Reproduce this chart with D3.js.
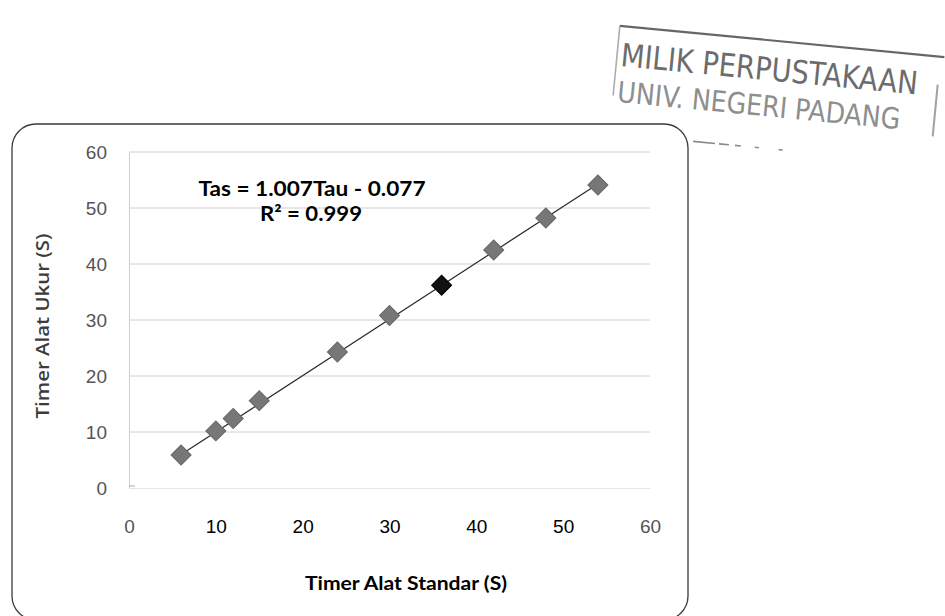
<!DOCTYPE html>
<html>
<head>
<meta charset="utf-8">
<script src="https://cdn.jsdelivr.net/npm/d3@7"></script>
<style>
  html, body { margin: 0; padding: 0; background: #fff; }
  svg { display: block; }
</style>
</head>
<body>
<div id="chart"></div>
<script>
// readings of the scanned chart
const tau = [6, 10, 12, 15, 24, 30, 36, 42, 48, 54];
const tas = [5.9, 10.2, 12.4, 15.6, 24.3, 30.8, 36.2, 42.5, 48.2, 54.1];
const xTicks = [0, 10, 20, 30, 40, 50, 60];
const yTicks = [0, 10, 20, 30, 40, 50, 60];
const slope = 1.007;
const intercept = -0.077;
const eqLines = ['Tas = 1.007Tau - 0.077', 'R² = 0.999'];
const stampLines = ['MILIK PERPUSTAKAAN', 'UNIV. NEGERI PADANG'];

const width = 945, height = 616;
const svg = d3.select('#chart').append('svg')
  .attr('width', width)
  .attr('height', height)
  .style('font-family', 'Lato, "Open Sans", sans-serif');

svg.append('rect').attr('width', width).attr('height', height).attr('fill', '#fff');

const x = d3.scaleLinear().domain([0, 60]).range([129, 650]);
const y = d3.scaleLinear().domain([0, 60]).range([488, 152]);

// chart frame (rounded)
svg.append('rect')
  .attr('x', 12).attr('y', 124)
  .attr('width', 676).attr('height', 496)
  .attr('rx', 24)
  .attr('fill', 'none')
  .attr('stroke', '#3a3a3a')
  .attr('stroke-width', 1.3);

// gridlines
svg.append('g')
  .selectAll('line')
  .data(yTicks.filter(d => d > 0))
  .join('line')
  .attr('x1', x(0)).attr('x2', x(60))
  .attr('y1', d => y(d)).attr('y2', d => y(d))
  .attr('stroke', '#d0d0d0')
  .attr('stroke-width', 1);

// y axis
const yAxis = svg.append('g')
  .attr('transform', `translate(${x(0)},0)`)
  .call(d3.axisLeft(y).tickValues(yTicks).tickSize(0).tickPadding(22));
yAxis.select('.domain').attr('stroke', '#cfcfcf');
yAxis.selectAll('text')
  .attr('font-size', 19)
  .attr('fill', '#555');

// x axis
const xAxis = svg.append('g')
  .attr('transform', `translate(0,${y(0)})`)
  .call(d3.axisBottom(x).tickValues(xTicks).tickSize(0).tickPadding(32));
xAxis.select('.domain').attr('stroke', '#e6e6e6');
xAxis.selectAll('text')
  .attr('font-size', 19)
  .attr('fill', d => (d === 0 || d === 60) ? '#555' : '#000');

// small axis tick near origin
svg.append('line')
  .attr('x1', x(0)).attr('x2', x(0) + 6)
  .attr('y1', y(0) - 2).attr('y2', y(0) - 2)
  .attr('stroke', '#aaa');

// trendline
const trendX = d3.extent(tau);
svg.append('line')
  .attr('x1', x(trendX[0])).attr('y1', y(slope * trendX[0] + intercept))
  .attr('x2', x(trendX[1])).attr('y2', y(slope * trendX[1] + intercept))
  .attr('stroke', '#2a2a2a')
  .attr('stroke-width', 1.2);

// diamond markers
const points = tau.map((t, i) => ({ t, v: tas[i] }));
svg.append('g')
  .selectAll('path')
  .data(points)
  .join('path')
  .attr('d', d3.symbol().type(d3.symbolSquare).size(200))
  .attr('transform', d => `translate(${x(d.t)},${y(d.v)}) rotate(45)`)
  .attr('fill', d => d.t === 36 ? '#111' : '#777')
  .attr('stroke', d => d.t === 36 ? '#000' : '#666')
  .attr('stroke-width', 1);

// equation label
const eq = svg.append('g').attr('font-weight', 700).attr('fill', '#000');
eq.append('text')
  .attr('x', 312).attr('y', 196)
  .attr('text-anchor', 'middle')
  .attr('font-size', 20)
  .attr('textLength', 227)
  .attr('lengthAdjust', 'spacingAndGlyphs')
  .text(eqLines[0]);
eq.append('text')
  .attr('x', 311).attr('y', 221)
  .attr('text-anchor', 'middle')
  .attr('font-size', 20)
  .attr('textLength', 102)
  .attr('lengthAdjust', 'spacingAndGlyphs')
  .text(eqLines[1]);

// axis titles
svg.append('text')
  .attr('transform', 'translate(49,326) rotate(-90)')
  .attr('text-anchor', 'middle')
  .attr('font-family', '"Open Sans", sans-serif')
  .attr('font-size', 18)
  .attr('font-weight', 600)
  .attr('fill', '#3c3c3c')
  .attr('textLength', 185)
  .attr('lengthAdjust', 'spacingAndGlyphs')
  .text('Timer Alat Ukur (S)');

svg.append('text')
  .attr('x', 406).attr('y', 590)
  .attr('text-anchor', 'middle')
  .attr('font-size', 19)
  .attr('font-weight', 700)
  .attr('fill', '#000')
  .attr('textLength', 202)
  .attr('lengthAdjust', 'spacingAndGlyphs')
  .text('Timer Alat Standar (S)');

// library stamp
const stamp = svg.append('g')
  .attr('transform', 'translate(620,66) rotate(5.5)');
const stampEdge = '#8a8a8a';
stamp.append('path')
  .attr('d', 'M-4,-40 L322,-40')
  .attr('stroke', '#666').attr('stroke-width', 2.2).attr('fill', 'none');
stamp.append('path')
  .attr('d', 'M-4,-40 L-4,30')
  .attr('stroke', stampEdge).attr('stroke-width', 1.6).attr('fill', 'none')
  .attr('opacity', 0.7);
stamp.append('path')
  .attr('d', 'M318,-12 L318,40')
  .attr('stroke', stampEdge).attr('stroke-width', 2).attr('fill', 'none')
  .attr('opacity', 0.8);
stamp.append('path')
  .attr('d', 'M80,68 L170,68')
  .attr('stroke', stampEdge).attr('stroke-width', 1.6).attr('fill', 'none')
  .attr('stroke-dasharray', '22 4 10 6 6 14 4 20');
stamp.append('text')
  .attr('x', 0).attr('y', 0)
  .attr('font-family', '"DejaVu Sans Condensed", "DejaVu Sans", sans-serif')
  .attr('font-size', 32)
  .attr('fill', '#6c6c6c')
  .attr('textLength', 298)
  .attr('lengthAdjust', 'spacingAndGlyphs')
  .text(stampLines[0]);
stamp.append('text')
  .attr('x', 0).attr('y', 36)
  .attr('font-family', '"DejaVu Sans Condensed", "DejaVu Sans", sans-serif')
  .attr('font-size', 29)
  .attr('fill', '#8e8e8e')
  .attr('textLength', 284)
  .attr('lengthAdjust', 'spacingAndGlyphs')
  .text(stampLines[1]);
</script>
</body>
</html>
